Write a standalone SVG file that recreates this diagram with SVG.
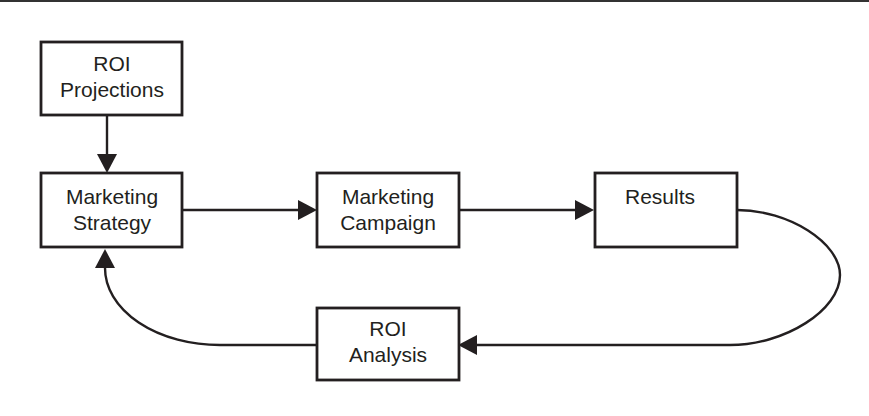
<svg xmlns="http://www.w3.org/2000/svg" width="869" height="416" viewBox="0 0 869 416">
  <style>
    .box { fill: #ffffff; stroke: #231f20; stroke-width: 2.8; }
    .lbl { font-family: "Liberation Sans", Arial, sans-serif; font-size: 21px; fill: #231f20; text-anchor: middle; }
    .wire { fill: none; stroke: #231f20; stroke-width: 2.4; }
  </style>
  <defs>
    <marker id="head" markerWidth="19" markerHeight="20" refX="0" refY="10" orient="auto" markerUnits="userSpaceOnUse">
      <path d="M0,0 L19,10 L0,20 Z" fill="#231f20"/>
    </marker>
  </defs>

  <!-- header rule -->
  <rect x="0" y="0" width="869" height="2" fill="#333333"/>

  <g id="connectors">
    <path class="wire" d="M107,115 L107,154" marker-end="url(#head)"/>
    <path class="wire" d="M182,210 L298,210" marker-end="url(#head)"/>
    <path class="wire" d="M459,210 L575,210" marker-end="url(#head)"/>
    <path class="wire" d="M737,210 C789,210 840,243 840,275 C840,310 785,345 730,345 L477,345" marker-end="url(#head)"/>
    <path class="wire" d="M317,345 L220,345 A115,77 0 0 1 105,268" marker-end="url(#head)"/>
  </g>

  <g id="roi-projections">
    <rect class="box" x="41" y="42" width="141" height="73"/>
    <text class="lbl" x="112" y="71">ROI</text>
    <text class="lbl" x="112" y="97">Projections</text>
  </g>

  <g id="marketing-strategy">
    <rect class="box" x="41" y="173" width="141" height="74"/>
    <text class="lbl" x="112" y="204">Marketing</text>
    <text class="lbl" x="112" y="230">Strategy</text>
  </g>

  <g id="marketing-campaign">
    <rect class="box" x="317" y="173" width="142" height="74"/>
    <text class="lbl" x="388" y="204">Marketing</text>
    <text class="lbl" x="388" y="230">Campaign</text>
  </g>

  <g id="results">
    <rect class="box" x="595" y="173" width="142" height="74"/>
    <text class="lbl" x="660" y="204">Results</text>
  </g>

  <g id="roi-analysis">
    <rect class="box" x="317" y="308" width="142" height="72"/>
    <text class="lbl" x="388" y="336">ROI</text>
    <text class="lbl" x="388" y="362">Analysis</text>
  </g>
</svg>
